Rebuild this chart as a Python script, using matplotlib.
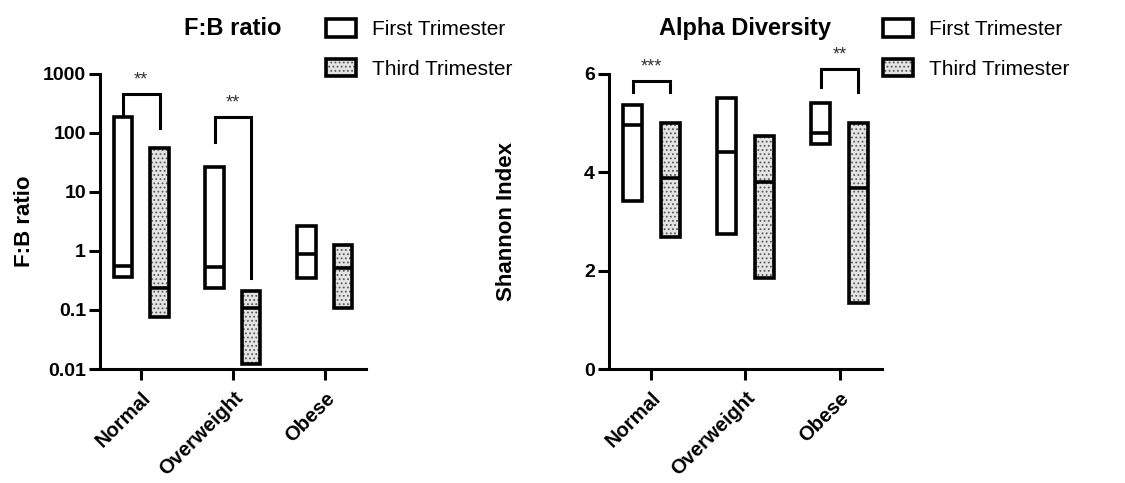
import matplotlib.pyplot as plt
from matplotlib.patches import Patch
from matplotlib.legend_handler import HandlerTuple

plt.rcParams['font.family'] = ['Liberation Sans', 'DejaVu Sans']
plt.rcParams['hatch.linewidth'] = 0.8

groups = ["Normal", "Overweight", "Obese"]

# floating bars: min / median / max per BMI group
fb_first_lo = [0.36, 0.24, 0.35]
fb_first_med = [0.56, 0.54, 0.88]
fb_first_hi = [185, 26, 2.7]
fb_third_lo = [0.077, 0.012, 0.11]
fb_third_med = [0.24, 0.11, 0.52]
fb_third_hi = [56, 0.21, 1.28]

sh_first_lo = [3.42, 2.74, 4.58]
sh_first_med = [4.96, 4.41, 4.79]
sh_first_hi = [5.36, 5.51, 5.41]
sh_third_lo = [2.69, 1.86, 1.35]
sh_third_med = [3.88, 3.81, 3.69]
sh_third_hi = [5.00, 4.73, 5.00]

# significance brackets: group, stars, bar top, left leg end, right leg end
fb_sig = [(0, "**", 450, 200, 120), (1, "**", 185, 71, 0.35)]
sh_sig = [(0, "***", 5.86, 5.63, 5.63), (2, "**", 6.09, 5.73, 5.63)]

fb_ticks = [0.01, 0.1, 1, 10, 100, 1000]
fb_ticklabels = ["0.01", "0.1", "1", "10", "100", "1000"]
sh_ticks = [0, 2, 4, 6]

W = 0.2
OFF = 0.2
LW = 2.6
DOTS = dict(facecolor="#e4e4e4", edgecolor="#5a5a5a", hatch="....", linewidth=0)


def floating(ax, xs, lo, med, hi, dotted):
    h = [b - a for a, b in zip(lo, hi)]
    if dotted:
        ax.bar(xs, h, bottom=lo, width=W, **DOTS, zorder=2)
    ax.bar(xs, h, bottom=lo, width=W, fill=False, edgecolor="black",
           linewidth=LW, zorder=3)
    ax.hlines(med, [x - W / 2 for x in xs], [x + W / 2 for x in xs],
              color="black", linewidth=LW, zorder=3)


def brackets(ax, sig):
    for g, stars, top, l_end, r_end in sig:
        x0, x1 = g - OFF, g + OFF
        ax.plot([x0, x0, x1, x1], [l_end, top, top, r_end], color="black",
                linewidth=2.2, solid_joinstyle="miter", zorder=3, clip_on=False)
        ax.annotate(stars, xy=(g, top), xytext=(0, 4), textcoords="offset points",
                    ha="center", va="bottom", fontsize=13, color="#333333",
                    annotation_clip=False)


def style(ax, title, ylabel):
    for s in ["top", "right"]:
        ax.spines[s].set_visible(False)
    for s in ["left", "bottom"]:
        ax.spines[s].set_linewidth(2.2)
    ax.tick_params(width=2.2, length=8, labelsize=14, pad=2)
    ax.set_xlim(-0.45, 2.45)
    ax.set_xticks(range(len(groups)))
    ax.set_xticklabels(groups, rotation=45, ha="right", rotation_mode="anchor",
                       fontweight="bold", fontsize=14.5)
    ax.tick_params(axis="x", pad=6)
    for lab in ax.get_yticklabels():
        lab.set_fontweight("bold")
    ax.set_title(title, fontsize=17, fontweight="bold", pad=28)
    ax.set_ylabel(ylabel, fontsize=16, fontweight="bold")


fig = plt.figure(figsize=(11.25, 4.83), dpi=100)
ax1 = fig.add_axes([0.0889, 0.236, 0.2364, 0.611])
ax2 = fig.add_axes([0.5413, 0.236, 0.2427, 0.611])

xs = range(len(groups))
first_x = [x - OFF for x in xs]
third_x = [x + OFF for x in xs]

ax1.set_yscale("log")
floating(ax1, first_x, fb_first_lo, fb_first_med, fb_first_hi, False)
floating(ax1, third_x, fb_third_lo, fb_third_med, fb_third_hi, True)
brackets(ax1, fb_sig)
ax1.set_ylim(0.01, 1000)
ax1.set_yticks(fb_ticks)
ax1.set_yticklabels(fb_ticklabels)
ax1.minorticks_off()
style(ax1, "F:B ratio", "F:B ratio")
ax1.yaxis.set_label_coords(-0.245, 0.5)

floating(ax2, first_x, sh_first_lo, sh_first_med, sh_first_hi, False)
floating(ax2, third_x, sh_third_lo, sh_third_med, sh_third_hi, True)
brackets(ax2, sh_sig)
ax2.set_ylim(0, 6)
ax2.set_yticks(sh_ticks)
style(ax2, "Alpha Diversity", "Shannon Index")
ax2.yaxis.set_label_coords(-0.335, 0.5)

handles = [Patch(facecolor="white", edgecolor="black", linewidth=LW),
           (Patch(**DOTS), Patch(fill=False, edgecolor="black", linewidth=LW))]
labels = ["First Trimester", "Third Trimester"]
for x in [0.29, 0.785]:
    fig.legend(handles, labels, loc="upper left", bbox_to_anchor=(x, 0.96),
               frameon=False, fontsize=15, borderpad=0, borderaxespad=0,
               handlelength=1.45, handleheight=0.9, handletextpad=0.75,
               labelspacing=0.95,
               handler_map={tuple: HandlerTuple(ndivide=1, pad=0)})

fig.savefig("out.png", dpi=100)
